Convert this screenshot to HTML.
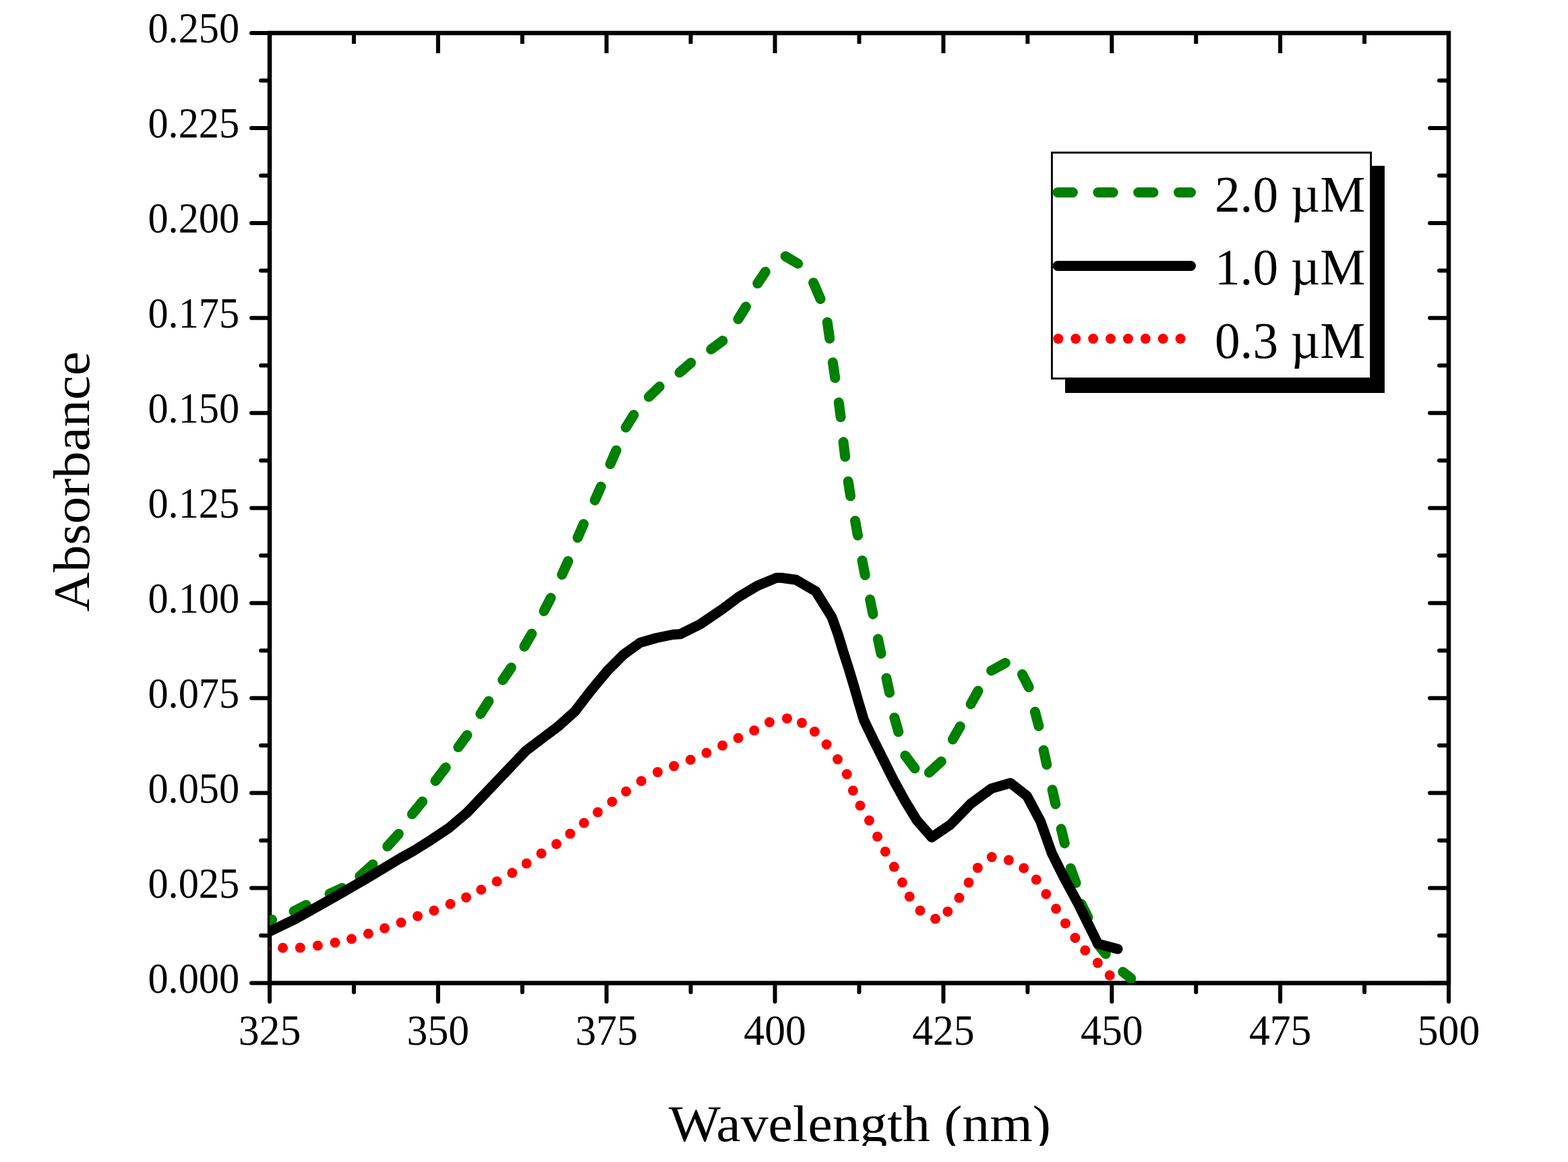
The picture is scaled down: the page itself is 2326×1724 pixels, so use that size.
<!DOCTYPE html><html><head><meta charset="utf-8"><title>Absorbance spectra</title><style>html,body{margin:0;padding:0;background:#fff;overflow:hidden}svg{display:block}</style></head><body>
<svg width="2326" height="1724" viewBox="0 0 2326 1724">
<rect width="100%" height="100%" fill="#fff"/>
<defs><clipPath id="pc"><rect x="400" y="0" width="1800" height="1458.5"/></clipPath></defs>
<path d="M400.0 49.0V1458.5 M2149.0 46.0V1461.5 M397.0 49.0H2152.0 M397.0 1458.5H2152.0" stroke="#000" stroke-width="6.5" fill="none"/>
<path d="M373 1458.50H400.0 M2149.0 1458.50H2121 M373 1317.55H400.0 M2149.0 1317.55H2121 M373 1176.60H400.0 M2149.0 1176.60H2121 M373 1035.65H400.0 M2149.0 1035.65H2121 M373 894.70H400.0 M2149.0 894.70H2121 M373 753.75H400.0 M2149.0 753.75H2121 M373 612.80H400.0 M2149.0 612.80H2121 M373 471.85H400.0 M2149.0 471.85H2121 M373 330.90H400.0 M2149.0 330.90H2121 M373 189.95H400.0 M2149.0 189.95H2121 M373 49.00H400.0 M2149.0 49.00H2121 M387 1388.03H400.0 M2149.0 1388.03H2135 M387 1247.08H400.0 M2149.0 1247.08H2135 M387 1106.12H400.0 M2149.0 1106.12H2135 M387 965.17H400.0 M2149.0 965.17H2135 M387 824.23H400.0 M2149.0 824.23H2135 M387 683.27H400.0 M2149.0 683.27H2135 M387 542.33H400.0 M2149.0 542.33H2135 M387 401.38H400.0 M2149.0 401.38H2135 M387 260.42H400.0 M2149.0 260.42H2135 M387 119.47H400.0 M2149.0 119.47H2135 M400.00 1458.5V1486 M649.86 1458.5V1486 M899.71 1458.5V1486 M1149.57 1458.5V1486 M1399.43 1458.5V1486 M1649.29 1458.5V1486 M1899.14 1458.5V1486 M2149.00 1458.5V1486 M524.93 1458.5V1472 M774.79 1458.5V1472 M1024.64 1458.5V1472 M1274.50 1458.5V1472 M1524.36 1458.5V1472 M1774.21 1458.5V1472 M2024.07 1458.5V1472" stroke="#000" stroke-width="6" stroke-linecap="round" fill="none"/>
<path d="M400.00 49.0V79 M649.86 49.0V79 M899.71 49.0V79 M1149.57 49.0V79 M1399.43 49.0V79 M1649.29 49.0V79 M1899.14 49.0V79 M2149.00 49.0V79 M524.93 49.0V65 M774.79 49.0V65 M1024.64 49.0V65 M1274.50 49.0V65 M1524.36 49.0V65 M1774.21 49.0V65 M2024.07 49.0V65" stroke="#000" stroke-width="6" fill="none"/>
<text transform="translate(355.2 1472.90) scale(0.943 1)" font-family="Liberation Serif, serif" font-size="64" text-anchor="end">0.000</text>
<text transform="translate(355.2 1331.95) scale(0.943 1)" font-family="Liberation Serif, serif" font-size="64" text-anchor="end">0.025</text>
<text transform="translate(355.2 1191.00) scale(0.943 1)" font-family="Liberation Serif, serif" font-size="64" text-anchor="end">0.050</text>
<text transform="translate(355.2 1050.05) scale(0.943 1)" font-family="Liberation Serif, serif" font-size="64" text-anchor="end">0.075</text>
<text transform="translate(355.2 909.10) scale(0.943 1)" font-family="Liberation Serif, serif" font-size="64" text-anchor="end">0.100</text>
<text transform="translate(355.2 768.15) scale(0.943 1)" font-family="Liberation Serif, serif" font-size="64" text-anchor="end">0.125</text>
<text transform="translate(355.2 627.20) scale(0.943 1)" font-family="Liberation Serif, serif" font-size="64" text-anchor="end">0.150</text>
<text transform="translate(355.2 486.25) scale(0.943 1)" font-family="Liberation Serif, serif" font-size="64" text-anchor="end">0.175</text>
<text transform="translate(355.2 345.30) scale(0.943 1)" font-family="Liberation Serif, serif" font-size="64" text-anchor="end">0.200</text>
<text transform="translate(355.2 204.35) scale(0.943 1)" font-family="Liberation Serif, serif" font-size="64" text-anchor="end">0.225</text>
<text transform="translate(355.2 63.40) scale(0.943 1)" font-family="Liberation Serif, serif" font-size="64" text-anchor="end">0.250</text>
<text transform="translate(400.00 1549.6) scale(0.964 1)" font-family="Liberation Serif, serif" font-size="64" text-anchor="middle">325</text>
<text transform="translate(649.86 1549.6) scale(0.964 1)" font-family="Liberation Serif, serif" font-size="64" text-anchor="middle">350</text>
<text transform="translate(899.71 1549.6) scale(0.964 1)" font-family="Liberation Serif, serif" font-size="64" text-anchor="middle">375</text>
<text transform="translate(1149.57 1549.6) scale(0.964 1)" font-family="Liberation Serif, serif" font-size="64" text-anchor="middle">400</text>
<text transform="translate(1399.43 1549.6) scale(0.964 1)" font-family="Liberation Serif, serif" font-size="64" text-anchor="middle">425</text>
<text transform="translate(1649.29 1549.6) scale(0.964 1)" font-family="Liberation Serif, serif" font-size="64" text-anchor="middle">450</text>
<text transform="translate(1899.14 1549.6) scale(0.964 1)" font-family="Liberation Serif, serif" font-size="64" text-anchor="middle">475</text>
<text transform="translate(2149.00 1549.6) scale(0.964 1)" font-family="Liberation Serif, serif" font-size="64" text-anchor="middle">500</text>
<text transform="translate(131.5 907.5) rotate(-90) scale(1.05 1)" font-family="Liberation Serif, serif" font-size="77">Absorbance</text>
<text transform="translate(992 1693) scale(1.074 1)" font-family="Liberation Serif, serif" font-size="76">Wavelength (nm)</text>
<rect x="0" y="1700" width="2326" height="24" fill="#fff"/>
<g clip-path="url(#pc)">
<path d="M385.0 1372.0L403.5 1364.5M436.0 1352.0L454.2 1342.7M489.0 1326.0L507.5 1317.5M533.7 1300.0L553.0 1282.6M574.7 1255.8L591.3 1237.2M611.3 1207.9L626.6 1189.2M645.9 1158.6L661.2 1138.6M679.8 1108.6L692.9 1090.7M712.8 1059.2L724.9 1040.3M745.7 1008.9L758.3 990.5M777.8 959.2L788.8 940.2M807.0 906.7L817.0 887.1M833.7 852.6L842.7 832.6M856.9 797.8L865.7 777.6M882.4 742.2L891.4 722.0M905.3 688.4L914.1 668.2M928.4 634.2L940.0 615.6M962.5 588.8L978.3 573.6M1008.1 552.8L1024.9 538.3M1054.8 518.3L1072.0 505.6M1095.0 473.4L1106.5 455.0M1123.8 420.5L1135.3 403.3M1165.2 380.3L1183.6 391.1M1206.6 419.4L1217.0 443.5M1227.3 478.0L1230.7 502.2M1235.4 537.8L1238.8 560.8M1244.3 597.1L1247.1 618.9M1251.1 655.8L1253.7 677.6M1258.2 714.2L1261.6 736.0M1268.5 772.7L1272.5 794.3M1279.0 831.7L1283.2 853.3M1290.6 889.6L1295.0 911.2M1302.4 948.1L1307.0 969.7M1314.9 1006.0L1319.5 1027.6M1326.8 1064.7L1332.8 1085.9M1342.8 1121.1L1357.0 1140.0M1378.2 1146.3L1396.3 1129.8M1413.4 1096.9L1424.3 1077.8M1440.1 1044.6L1451.0 1025.0M1470.6 995.0L1491.3 983.6M1516.4 1000.5L1526.2 1019.5M1535.4 1056.0L1540.9 1077.3M1548.1 1113.0L1552.7 1134.4M1561.0 1171.7L1565.8 1193.1M1574.1 1229.8L1579.3 1251.2M1588.2 1288.2L1596.0 1310.0M1604.0 1341.0L1614.0 1361.0M1628.0 1400.0L1640.2 1415.3M1665.7 1442.0L1677.8 1451.7" stroke="#008000" stroke-width="15" fill="none" stroke-linecap="round"/>
<path d="M385.0 1389.0 L402.9 1380.4 L438.7 1363.2 L496.9 1330.5 L545.3 1302.5 L593.7 1273.4 L613.3 1262.5 L639.9 1245.8 L666.6 1227.9 L693.2 1205.2 L719.8 1177.3 L746.5 1149.3 L780.0 1114.0 L804.2 1095.6 L828.4 1077.4 L852.7 1055.6 L876.9 1024.1 L901.1 995.1 L925.3 970.9 L949.5 953.5 L973.8 946.5 L998.0 941.5 L1009.3 940.7 L1038.5 926.2 L1072.3 903.2 L1095.6 885.7 L1123.6 869.0 L1151.6 857.3 L1158.6 857.3 L1180.8 860.2 L1210.0 877.2 L1233.8 915.4 L1243.0 940.8 L1250.7 966.2 L1258.9 991.7 L1266.5 1017.1 L1273.8 1042.5 L1281.4 1067.9 L1294.1 1094.4 L1309.8 1125.9 L1325.5 1157.3 L1342.8 1188.8 L1360.1 1217.1 L1382.2 1242.3 L1410.0 1223.4 L1439.8 1192.6 L1470.7 1169.9 L1498.8 1161.7 L1523.3 1180.8 L1543.3 1218.0 L1560.3 1265.8 L1578.8 1302.9 L1598.9 1339.9 L1628.7 1400.2 L1658.0 1408.0" stroke="#000" stroke-width="15" fill="none" stroke-linejoin="round" stroke-linecap="round"/>
<g fill="#ff0000"><circle cx="393.5" cy="1407.0" r="7.5"/><circle cx="419.5" cy="1406.3" r="7.5"/><circle cx="445.3" cy="1406.1" r="7.5"/><circle cx="471.3" cy="1403.0" r="7.5"/><circle cx="497.0" cy="1398.5" r="7.5"/><circle cx="521.5" cy="1393.0" r="7.5"/><circle cx="546.4" cy="1385.3" r="7.5"/><circle cx="570.5" cy="1377.3" r="7.5"/><circle cx="595.0" cy="1368.7" r="7.5"/><circle cx="619.5" cy="1359.3" r="7.5"/><circle cx="643.8" cy="1351.0" r="7.5"/><circle cx="668.0" cy="1341.2" r="7.5"/><circle cx="691.5" cy="1331.4" r="7.5"/><circle cx="713.8" cy="1320.0" r="7.5"/><circle cx="737.1" cy="1307.8" r="7.5"/><circle cx="759.8" cy="1295.1" r="7.5"/><circle cx="781.1" cy="1281.1" r="7.5"/><circle cx="803.0" cy="1266.3" r="7.5"/><circle cx="825.4" cy="1252.2" r="7.5"/><circle cx="845.8" cy="1236.9" r="7.5"/><circle cx="866.3" cy="1221.0" r="7.5"/><circle cx="886.7" cy="1205.0" r="7.5"/><circle cx="908.0" cy="1189.5" r="7.5"/><circle cx="928.7" cy="1174.3" r="7.5"/><circle cx="951.3" cy="1158.7" r="7.5"/><circle cx="975.5" cy="1145.6" r="7.5"/><circle cx="999.8" cy="1136.6" r="7.5"/><circle cx="1024.3" cy="1127.3" r="7.5"/><circle cx="1048.0" cy="1117.0" r="7.5"/><circle cx="1071.7" cy="1106.1" r="7.5"/><circle cx="1095.1" cy="1095.0" r="7.5"/><circle cx="1118.8" cy="1083.8" r="7.5"/><circle cx="1141.5" cy="1071.5" r="7.5"/><circle cx="1167.5" cy="1065.9" r="7.5"/><circle cx="1189.5" cy="1072.4" r="7.5"/><circle cx="1208.4" cy="1085.5" r="7.5"/><circle cx="1226.0" cy="1104.5" r="7.5"/><circle cx="1242.5" cy="1126.5" r="7.5"/><circle cx="1256.2" cy="1148.6" r="7.5"/><circle cx="1265.4" cy="1173.0" r="7.5"/><circle cx="1276.0" cy="1195.2" r="7.5"/><circle cx="1289.4" cy="1217.3" r="7.5"/><circle cx="1301.5" cy="1241.2" r="7.5"/><circle cx="1313.2" cy="1263.4" r="7.5"/><circle cx="1326.3" cy="1286.1" r="7.5"/><circle cx="1338.4" cy="1309.2" r="7.5"/><circle cx="1349.2" cy="1330.3" r="7.5"/><circle cx="1365.0" cy="1351.0" r="7.5"/><circle cx="1387.5" cy="1363.3" r="7.5"/><circle cx="1405.8" cy="1352.4" r="7.5"/><circle cx="1422.9" cy="1332.1" r="7.5"/><circle cx="1437.0" cy="1309.4" r="7.5"/><circle cx="1450.3" cy="1287.6" r="7.5"/><circle cx="1471.2" cy="1271.6" r="7.5"/><circle cx="1496.4" cy="1276.1" r="7.5"/><circle cx="1518.7" cy="1288.0" r="7.5"/><circle cx="1537.2" cy="1305.1" r="7.5"/><circle cx="1551.8" cy="1326.4" r="7.5"/><circle cx="1566.5" cy="1348.3" r="7.5"/><circle cx="1580.4" cy="1369.9" r="7.5"/><circle cx="1594.9" cy="1391.5" r="7.5"/><circle cx="1609.7" cy="1410.0" r="7.5"/><circle cx="1628.3" cy="1428.6" r="7.5"/><circle cx="1646.2" cy="1447.1" r="7.5"/></g>
</g>
<rect x="1580" y="246" width="474" height="337" fill="#000"/>
<rect x="1560.4" y="226.4" width="473.2" height="335.2" fill="#fff" stroke="#000" stroke-width="2.9"/>
<path d="M1569 285.5H1766.5" stroke="#008000" stroke-width="15" stroke-linecap="round" stroke-dasharray="22.4 37.4" fill="none"/>
<path d="M1569 394.5H1766.5" stroke="#000" stroke-width="15" stroke-linecap="round" fill="none"/>
<path d="M1569.8 502.6H1766.5" stroke="#ff0000" stroke-width="15" stroke-linecap="round" stroke-dasharray="0 25.9" fill="none"/>
<text transform="translate(1802 313.9) scale(0.99 1)" font-family="Liberation Serif, serif" font-size="76">2.0 µM</text>
<text transform="translate(1802 421.7) scale(0.99 1)" font-family="Liberation Serif, serif" font-size="76">1.0 µM</text>
<text transform="translate(1802 530.6) scale(0.99 1)" font-family="Liberation Serif, serif" font-size="76">0.3 µM</text>
</svg></body></html>
